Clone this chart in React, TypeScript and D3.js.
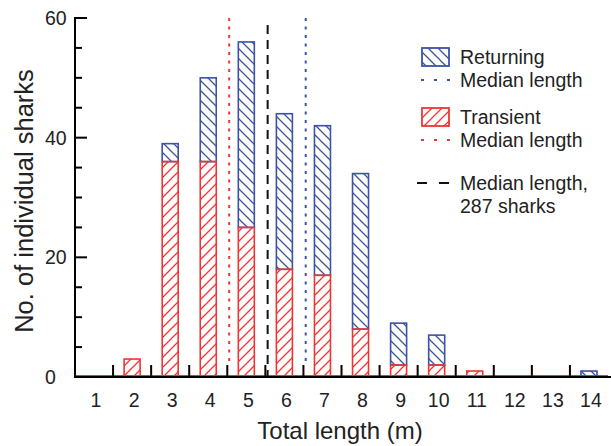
import * as d3 from "d3";

const lengths = [1, 2, 3, 4, 5, 6, 7, 8, 9, 10, 11, 12, 13, 14];
const transient = [0, 3, 36, 36, 25, 18, 17, 8, 2, 2, 1, 0, 0, 0];
const returning = [0, 0, 3, 14, 31, 26, 25, 26, 7, 5, 0, 0, 0, 1];
const yTicks = [0, 20, 40, 60];
const medianTransient = 4.55;
const medianAll = 5.56;
const medianReturning = 6.56;

const BLUE = "#3b52a8";
const RED = "#ee3535";
const FONT = "Liberation Sans, Arial, Helvetica, sans-serif";

export default function App() {
  const width = 611;
  const height = 446;
  const left = 75;
  const right = 608;
  const top = 18;
  const bottom = 377;

  const x = d3.scaleLinear().domain([0.5, 14.5]).range([left, right]);
  const y = d3.scaleLinear().domain([0, 60]).range([bottom, top]);
  const barW = 16;

  const minor = d3.range(0, 61, 5);
  const bounds = d3.range(1.5, 14, 1);
  const fs = 19.5;

  return (
    <svg
      width={width}
      height={height}
      style={{ position: "absolute", left: 0, top: 0, fontFamily: FONT }}
    >
      <defs>
        <pattern id="hatchBlue" patternUnits="userSpaceOnUse" width={10} height={10}>
          <path d="M-2,-2 L12,12 M-2,8 L2,12 M8,-2 L12,2" stroke={BLUE} strokeWidth={1.3} />
        </pattern>
        <pattern id="hatchRed" patternUnits="userSpaceOnUse" width={10} height={10}>
          <path d="M-2,12 L12,-2 M-2,2 L2,-2 M8,12 L12,8" stroke={RED} strokeWidth={1.3} />
        </pattern>
      </defs>

      {/* zero baseline of the histogram */}
      <line x1={left} x2={right} y1={y(0) - 1.5} y2={y(0) - 1.5} stroke={RED} strokeWidth={1.2} />

      {lengths.map((l, i) => {
        const t = transient[i];
        const r = returning[i];
        return (
          <g key={l}>
            {r > 0 && (
              <rect
                x={x(l) - barW / 2}
                y={y(t + r)}
                width={barW}
                height={y(t) - y(t + r)}
                fill="url(#hatchBlue)"
                stroke={BLUE}
                strokeWidth={1.6}
              />
            )}
            {t > 0 && (
              <rect
                x={x(l) - barW / 2}
                y={y(t)}
                width={barW}
                height={y(0) - y(t)}
                fill="url(#hatchRed)"
                stroke={RED}
                strokeWidth={1.6}
              />
            )}
          </g>
        );
      })}

      {/* median lines */}
      <line x1={x(medianTransient)} x2={x(medianTransient)} y1={top} y2={bottom - 13}
        stroke={RED} strokeWidth={2} strokeDasharray="3,5.5" />
      <line x1={x(medianReturning)} x2={x(medianReturning)} y1={top} y2={bottom - 13}
        stroke={BLUE} strokeWidth={2} strokeDasharray="3,5.5" />
      <line x1={x(medianAll)} x2={x(medianAll)} y1={top + 7} y2={bottom}
        stroke="#111" strokeWidth={2} strokeDasharray="9,6" />

      {/* y axis */}
      <line x1={left} x2={left} y1={top - 1} y2={bottom + 1} stroke="#000" strokeWidth={2} />
      {minor.map((v) => (
        <line key={v} x1={left} x2={left + (v % 20 === 0 ? 12 : 7)} y1={y(v)} y2={y(v)}
          stroke="#000" strokeWidth={2} />
      ))}
      {yTicks.map((v) => (
        <text key={v} x={45} y={y(v) + 7} textAnchor="start" fontSize={fs} fill="#222">
          {v}
        </text>
      ))}

      {/* x axis */}
      <line x1={left - 1} x2={right + 3} y1={bottom} y2={bottom} stroke="#000" strokeWidth={2} />
      {bounds.map((b) => (
        <line key={b} x1={x(b)} x2={x(b)} y1={bottom} y2={bottom - 12} stroke="#000" strokeWidth={2} />
      ))}
      {lengths.map((l) => (
        <text key={l} x={x(l) + 2} y={407} textAnchor="middle" fontSize={fs} fill="#222">
          {l}
        </text>
      ))}

      <text x={340} y={439} textAnchor="middle" fontSize={24} fill="#222">
        Total length (m)
      </text>
      <text transform={`translate(33,201) rotate(-90)`} textAnchor="middle" fontSize={25.5} fill="#222">
        No. of individual sharks
      </text>

      {/* legend */}
      <rect x={422} y={48} width={27} height={18} fill="url(#hatchBlue)" stroke={BLUE} strokeWidth={1.8} />
      <text x={460} y={64} fontSize={fs} fill="#222">Returning</text>
      <line x1={421} x2={450} y1={80} y2={80} stroke={BLUE} strokeWidth={2} strokeDasharray="3,10" />
      <text x={460} y={87} fontSize={fs} fill="#222">Median length</text>

      <rect x={422} y={108} width={27} height={18} fill="url(#hatchRed)" stroke={RED} strokeWidth={1.8} />
      <text x={460} y={124} fontSize={fs} fill="#222">Transient</text>
      <line x1={421} x2={450} y1={140} y2={140} stroke={RED} strokeWidth={2} strokeDasharray="3,10" />
      <text x={460} y={147} fontSize={fs} fill="#222">Median length</text>

      <line x1={417} x2={450} y1={183} y2={183} stroke="#111" strokeWidth={2} strokeDasharray="10,12" />
      <text x={460} y={190} fontSize={fs} fill="#222">Median length,</text>
      <text x={460} y={213} fontSize={fs} fill="#222">287 sharks</text>
    </svg>
  );
}
